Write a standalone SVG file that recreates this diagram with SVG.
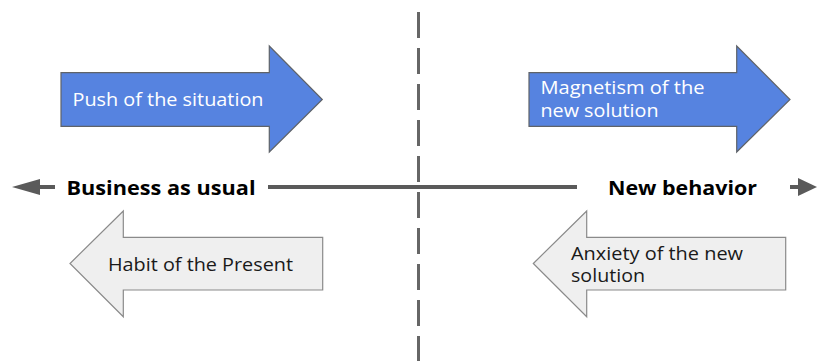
<svg xmlns="http://www.w3.org/2000/svg" width="817" height="361" viewBox="0 0 817 361">
  <style>
    .lbl { font-family: "Open Sans", "Noto Sans", "Liberation Sans", sans-serif; font-size: 18px; }
    .force-push { fill: #5683e0; stroke: #5f6368; stroke-width: 1.2; }
    .force-pull { fill: #efefef; stroke: #8a8a8a; stroke-width: 1.2; }
    .push-txt { fill: #ffffff; }
    .pull-txt { fill: #1a1a1a; }
    .axis-lbl { font-family: "Open Sans", "Noto Sans", "Liberation Sans", sans-serif; font-size: 20px; font-weight: 700; fill: #000000; }
    .axis { stroke: #5a5a5a; stroke-width: 4; fill: none; }
    .divider { stroke: #666666; stroke-width: 3; stroke-dasharray: 26 10; fill: none; }
    .head { fill: #5a5a5a; }
  </style>

  <!-- vertical split -->
  <g id="divider">
    <line class="divider" x1="418.5" y1="12" x2="418.5" y2="361"/>
  </g>

  <!-- horizontal axis with end arrows -->
  <g id="connectors">
    <line class="axis" x1="268" y1="187" x2="577" y2="187"/>
    <line class="axis" x1="36" y1="187" x2="55" y2="187"/>
    <polygon class="head" points="12,187 40,179 40,195"/>
    <line class="axis" x1="790" y1="187" x2="802" y2="187"/>
    <polygon class="head" points="817,187 798,178 798,196"/>
  </g>

  <g id="business-as-usual">
    <text class="axis-lbl" x="66.5" y="195" textLength="189" lengthAdjust="spacingAndGlyphs">Business as usual</text>
  </g>

  <g id="new-behavior">
    <text class="axis-lbl" x="608" y="195" textLength="149" lengthAdjust="spacingAndGlyphs">New behavior</text>
  </g>

  <g id="push">
    <polygon class="force-push" points="61,72.7 269.3,72.7 269.3,46 322.3,99.5 269.3,152 269.3,126.3 61,126.3"/>
    <text class="lbl push-txt" x="72.5" y="106" textLength="191" lengthAdjust="spacingAndGlyphs">Push of the situation</text>
  </g>

  <g id="magnetism">
    <polygon class="force-push" points="529,72.7 736.7,72.7 736.7,46 790,99.5 736.7,152 736.7,126.3 529,126.3"/>
    <text class="lbl push-txt" x="540.5" y="94" textLength="164" lengthAdjust="spacingAndGlyphs">Magnetism of the</text>
    <text class="lbl push-txt" x="540.5" y="117" textLength="118" lengthAdjust="spacingAndGlyphs">new solution</text>
  </g>

  <g id="habit">
    <polygon class="force-pull" points="322.7,237.3 123.3,237.3 123.3,211 70,263.5 123.3,316.7 123.3,290 322.7,290"/>
    <text class="lbl pull-txt" x="108" y="271" textLength="185" lengthAdjust="spacingAndGlyphs">Habit of the Present</text>
  </g>

  <g id="anxiety">
    <polygon class="force-pull" points="785.7,237.3 586.7,237.3 586.7,211 533.3,263.5 586.7,316.7 586.7,290 785.7,290"/>
    <text class="lbl pull-txt" x="571" y="260" textLength="172" lengthAdjust="spacingAndGlyphs">Anxiety of the new</text>
    <text class="lbl pull-txt" x="571" y="282" textLength="74" lengthAdjust="spacingAndGlyphs">solution</text>
  </g>
</svg>
